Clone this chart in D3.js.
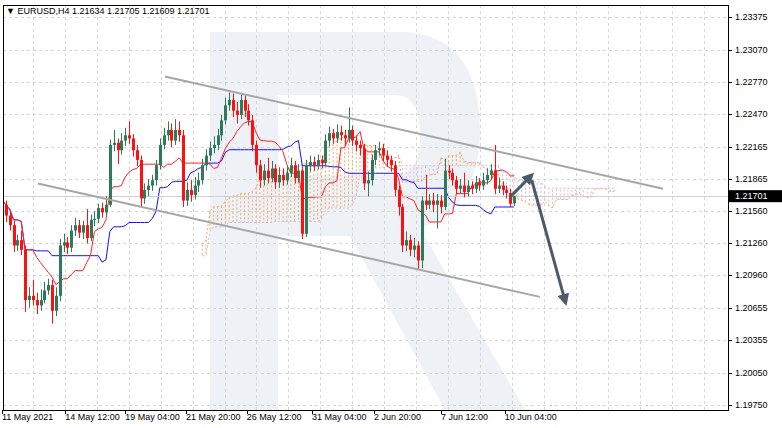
<!DOCTYPE html>
<html><head><meta charset="utf-8">
<script src="https://cdn.jsdelivr.net/npm/d3@7"></script>
<style>body{margin:0;background:#fff}text{font-family:"Liberation Sans",Arial,sans-serif}</style>
</head><body><div id="chart"></div>
<script>
// EURUSD H4 candles
var opens = [1.2170,1.2162,1.2152,1.2143,1.2124,1.2129,1.2120,1.2073,1.2077,1.2073,1.2068,1.2073,1.2082,1.2087,1.2063,1.2077,1.2124,1.2127,1.2122,1.2138,
1.2143,1.2136,1.2143,1.2131,1.2148,1.2149,1.2159,1.2155,1.2162,1.2218,1.2220,1.2213,1.2222,1.2227,1.2224,1.2213,1.2204,1.2168,1.2176,1.2180,
1.2185,1.2199,1.2218,1.2227,1.2232,1.2222,1.2232,1.2227,1.2166,1.2176,1.2171,1.2180,1.2185,1.2199,1.2208,1.2215,1.2218,1.2227,1.2241,1.2255,
1.2260,1.2250,1.2246,1.2260,1.2250,1.2241,1.2218,1.2199,1.2185,1.2194,1.2187,1.2196,1.2183,1.2190,1.2185,1.2192,1.2199,1.2187,1.2194,1.2135,
1.2199,1.2202,1.2199,1.2204,1.2201,1.2222,1.2229,1.2224,1.2230,1.2227,1.2224,1.2232,1.2222,1.2218,1.2215,1.2182,1.2185,1.2204,1.2213,1.2215,
1.2208,1.2204,1.2199,1.2176,1.2160,1.2124,1.2129,1.2120,1.2124,1.2110,1.2166,1.2162,1.2166,1.2162,1.2166,1.2160,1.2194,1.2192,1.2185,1.2177,
1.2180,1.2174,1.2180,1.2177,1.2183,1.2180,1.2185,1.2190,1.2194,1.2177,1.2180,1.2176,1.2173,1.21634];
var highs = [1.2178,1.2166,1.2156,1.2147,1.2134,1.2138,1.2124,1.2085,1.2092,1.2080,1.2083,1.2090,1.2093,1.2092,1.2085,1.2130,1.2135,1.2132,1.2143,1.2150,
1.2148,1.2147,1.2158,1.2153,1.2156,1.2163,1.2164,1.2170,1.2223,1.2232,1.2224,1.2229,1.2234,1.2240,1.2228,1.2218,1.2208,1.2182,1.2186,1.2190,
1.2204,1.2224,1.2234,1.2240,1.2238,1.2242,1.2240,1.2232,1.2183,1.2185,1.2188,1.2192,1.2205,1.2214,1.2221,1.2226,1.2233,1.2246,1.2262,1.2267,
1.2266,1.2258,1.2265,1.2264,1.2256,1.2246,1.2222,1.2204,1.2200,1.2206,1.2203,1.2200,1.2197,1.2196,1.2199,1.2206,1.2203,1.2200,1.2198,1.2204,
1.2208,1.2207,1.2209,1.2208,1.2228,1.2235,1.2233,1.2237,1.2236,1.2232,1.2253,1.2236,1.2227,1.2222,1.2219,1.2193,1.2209,1.2218,1.2221,1.2219,
1.2213,1.2208,1.2203,1.2180,1.2163,1.2137,1.2134,1.2131,1.2128,1.2170,1.2190,1.2172,1.2173,1.2172,1.2171,1.2205,1.2199,1.2196,1.2189,1.2186,
1.2192,1.2185,1.2184,1.2189,1.2187,1.2192,1.2196,1.2200,1.2218,1.2187,1.2184,1.2180,1.2177,1.21705];
var lows = [1.2155,1.2146,1.2138,1.2118,1.2119,1.2115,1.2062,1.2066,1.2068,1.2060,1.2063,1.2070,1.2078,1.2051,1.2058,1.2072,1.2118,1.2116,1.2118,1.2133,
1.2131,1.2130,1.2126,1.2128,1.2142,1.2145,1.2150,1.2152,1.2160,1.2212,1.2200,1.2209,1.2217,1.2219,1.2207,1.2198,1.2160,1.2163,1.2170,1.2175,
1.2180,1.2195,1.2214,1.2222,1.2216,1.2218,1.2221,1.2160,1.2161,1.2165,1.2167,1.2174,1.2181,1.2194,1.2203,1.2210,1.2213,1.2222,1.2237,1.2250,
1.2244,1.2238,1.2242,1.2244,1.2236,1.2212,1.2192,1.2178,1.2180,1.2182,1.2183,1.2177,1.2178,1.2180,1.2181,1.2188,1.2182,1.2183,1.2130,1.2132,
1.2193,1.2194,1.2195,1.2196,1.2198,1.2217,1.2219,1.2220,1.2222,1.2218,1.2220,1.2217,1.2212,1.2208,1.2176,1.2170,1.2180,1.2199,1.2208,1.2203,
1.2198,1.2193,1.2170,1.2152,1.2118,1.2119,1.2114,1.2113,1.2102,1.2103,1.2157,1.2158,1.2155,1.2140,1.2154,1.2157,1.2186,1.2180,1.2172,1.2173,
1.2169,1.2170,1.2172,1.2173,1.2175,1.2176,1.2181,1.2186,1.2172,1.2173,1.2171,1.2168,1.2160,1.21609];
var closes = [1.2162,1.2152,1.2143,1.2124,1.2129,1.2120,1.2073,1.2077,1.2073,1.2068,1.2073,1.2082,1.2087,1.2063,1.2077,1.2124,1.2127,1.2122,1.2138,1.2143,
1.2136,1.2143,1.2131,1.2148,1.2149,1.2159,1.2155,1.2162,1.2218,1.2220,1.2213,1.2222,1.2227,1.2224,1.2213,1.2204,1.2168,1.2176,1.2180,1.2185,
1.2199,1.2218,1.2227,1.2232,1.2222,1.2232,1.2227,1.2166,1.2176,1.2171,1.2180,1.2185,1.2199,1.2208,1.2215,1.2218,1.2227,1.2241,1.2255,1.2260,
1.2250,1.2246,1.2260,1.2250,1.2241,1.2218,1.2199,1.2185,1.2194,1.2187,1.2196,1.2183,1.2190,1.2185,1.2192,1.2199,1.2187,1.2194,1.2135,1.2199,
1.2202,1.2199,1.2204,1.2201,1.2222,1.2229,1.2224,1.2230,1.2227,1.2224,1.2232,1.2222,1.2218,1.2215,1.2182,1.2185,1.2204,1.2213,1.2215,1.2208,
1.2204,1.2199,1.2176,1.2160,1.2124,1.2129,1.2120,1.2124,1.2110,1.2166,1.2162,1.2166,1.2162,1.2166,1.2160,1.2194,1.2192,1.2185,1.2177,1.2180,
1.2174,1.2180,1.2177,1.2183,1.2180,1.2185,1.2190,1.2194,1.2177,1.2180,1.2176,1.2173,1.2163,1.21701];

var priceTicks = [1.23375,1.23070,1.22770,1.22470,1.22165,1.21865,1.21560,1.21260,1.20960,1.20655,1.20355,1.20050,1.19750];
var timeLabels = ["11 May 2021","14 May 12:00","19 May 04:00","21 May 20:00","26 May 12:00","31 May 04:00","2 Jun 20:00","7 Jun 12:00","10 Jun 04:00"];
var timeLabelBars = [0,16.4,32,47.8,63.6,80.5,96.6,114,130.6];
// analyst annotations: [bar, price]
var channelUpper = [[42.3,1.2282],[171.7,1.2177]];
var channelLower = [[9.3,1.2182],[139.7,1.2076]];
var arrowUp = [[131.9,1.2169],[137.1,1.2188]];
var arrowDown = [[137.6,1.2185],[146.2,1.2073]];

var W = 782, H = 428, pLeft = 3, pRight = 728, pTop = 5, pBottom = 410;
var x = d3.scaleLinear().domain([0,100]).range([2,387]);
var y = d3.scaleLinear().domain([1.1975,1.23375]).range([405,17]);

var svg = d3.select("#chart").append("svg").attr("width",W).attr("height",H);
svg.append("rect").attr("width",W).attr("height",H).attr("fill","#fff");

var defs = svg.append("defs");
defs.append("clipPath").attr("id","clip").append("rect")
    .attr("x",pLeft).attr("y",pTop).attr("width",pRight-pLeft).attr("height",pBottom-pTop);
defs.append("marker").attr("id","arr").attr("viewBox","0 0 10 10").attr("refX",5).attr("refY",5)
    .attr("markerWidth",4).attr("markerHeight",4).attr("orient","auto")
    .append("path").attr("d","M0,0L10,5L0,10z").attr("fill","#4b5b6c");

var plot = svg.append("g").attr("clip-path","url(#clip)");

// watermark
plot.append("path").attr("fill","#eef2f7").attr("fill-rule","evenodd")
    .attr("d","M210,32H400C455,32 480,70 480,130C480,185 455,218 420,228L525,410H445L350,236H278V410H210Z M278,95V175H395C412,175 420,160 420,135C420,110 412,95 395,95Z");

// grid
plot.selectAll(".hg").data(priceTicks).enter().append("line")
    .attr("x1",pLeft).attr("x2",pRight).attr("y1",function(d){return Math.round(y(d))+0.5;}).attr("y2",function(d){return Math.round(y(d))+0.5;})
    .attr("stroke","#d6d6d6").attr("stroke-dasharray","3,3");
plot.selectAll(".vg").data(d3.range(8,190,8.3)).enter().append("line")
    .attr("y1",pTop).attr("y2",pBottom).attr("x1",function(d){return Math.round(x(d))+0.5;}).attr("x2",function(d){return Math.round(x(d))+0.5;})
    .attr("stroke","#d6d6d6").attr("stroke-dasharray","3,3");

// ichimoku
function mid(i, n) {
    var s = Math.max(0, i-n+1);
    return (d3.max(highs.slice(s,i+1)) + d3.min(lows.slice(s,i+1))) / 2;
}
var tenkan = closes.map(function(d,i){return mid(i,9);});
var kijun = closes.map(function(d,i){return mid(i,26);});
var spanA = [];
closes.forEach(function(d,i){
    if (i < 26) return;
    spanA.push({i:i+26, a:(tenkan[i]+kijun[i])/2, b:mid(i,52)});
});
plot.selectAll(".cloud").data(spanA).enter().append("line")
    .attr("x1",function(d){return x(d.i);}).attr("x2",function(d){return x(d.i);})
    .attr("y1",function(d){return y(d.a);}).attr("y2",function(d){return y(d.b);})
    .attr("stroke",function(d){return d.a>=d.b?"#f5a868":"#d9b8d9";})
    .attr("stroke-width",1).attr("stroke-dasharray","2,2");
var cloudLine = function(k){return d3.line().x(function(d){return x(d.i);}).y(function(d){return y(d[k]);});};
plot.append("path").datum(spanA).attr("d",cloudLine("a")).attr("fill","none").attr("stroke","#f5a868").attr("stroke-dasharray","2,2");
plot.append("path").datum(spanA).attr("d",cloudLine("b")).attr("fill","none").attr("stroke","#d9b8d9").attr("stroke-dasharray","2,2");

var ln = d3.line().x(function(d,i){return x(i);}).y(function(d){return y(d);});
plot.append("path").datum(kijun).attr("d",ln).attr("fill","none").attr("stroke","#1010ff").attr("stroke-width",1);
plot.append("path").datum(tenkan).attr("d",ln).attr("fill","none").attr("stroke","#ff2020").attr("stroke-width",1);

// price line
var last = closes[closes.length-1];
plot.append("line").attr("x1",pLeft).attr("x2",pRight).attr("y1",Math.round(y(last))+0.5).attr("y2",Math.round(y(last))+0.5)
    .attr("stroke","#d0d0d0");

// candles
var candles = plot.selectAll(".c").data(closes).enter().append("g");
candles.append("line")
    .attr("x1",function(d,i){return Math.round(x(i))+0.5;}).attr("x2",function(d,i){return Math.round(x(i))+0.5;})
    .attr("y1",function(d,i){return y(highs[i]);}).attr("y2",function(d,i){return y(lows[i]);})
    .attr("stroke",function(d,i){return d>=opens[i]?"#2f7a5a":"#ff1010";});
candles.append("rect")
    .attr("x",function(d,i){return Math.round(x(i))-1;}).attr("width",3)
    .attr("y",function(d,i){return y(Math.max(d,opens[i]));})
    .attr("height",function(d,i){return Math.max(1,Math.abs(y(d)-y(opens[i])));})
    .attr("fill",function(d,i){return d>=opens[i]?"#2f7a5a":"#ff1010";});

// channel and arrows
var pl = d3.line().x(function(d){return x(d[0]);}).y(function(d){return y(d[1]);});
[channelUpper,channelLower].forEach(function(c){
    plot.append("path").attr("d",pl(c)).attr("stroke","#a6a6a6").attr("stroke-width",2).attr("fill","none");
});
[arrowUp,arrowDown].forEach(function(c){
    plot.append("path").attr("d",pl(c)).attr("stroke","#4b5b6c").attr("stroke-width",3).attr("fill","none").attr("marker-end","url(#arr)");
});

// frame and axis
svg.append("rect").attr("x",pLeft+0.5).attr("y",pTop+0.5).attr("width",pRight-pLeft).attr("height",pBottom-pTop)
    .attr("fill","none").attr("stroke","#000");
var yAxis = svg.append("g");
yAxis.selectAll("line").data(priceTicks).enter().append("line")
    .attr("x1",pRight).attr("x2",pRight+4).attr("y1",function(d){return Math.round(y(d))+0.5;}).attr("y2",function(d){return Math.round(y(d))+0.5;})
    .attr("stroke","#000");
yAxis.selectAll("text").data(priceTicks).enter().append("text")
    .attr("x",pRight+7).attr("y",function(d){return y(d)+3;}).attr("font-size",9).attr("fill","#000")
    .text(function(d){return d.toFixed(5);});
svg.append("rect").attr("x",pRight+1).attr("y",y(last)-6).attr("width",W-pRight-1).attr("height",12).attr("fill","#000");
svg.append("text").attr("x",pRight+7).attr("y",y(last)+3).attr("font-size",9).attr("fill","#fff").text(last.toFixed(5));

svg.selectAll(".xt").data(timeLabels).enter().append("text")
    .attr("x",function(d,i){return x(timeLabelBars[i]);}).attr("y",420).attr("font-size",9).attr("fill","#000")
    .text(function(d){return d;});
svg.selectAll(".xk").data(timeLabelBars).enter().append("line")
    .attr("x1",function(d){return Math.round(x(d))+0.5;}).attr("x2",function(d){return Math.round(x(d))+0.5;})
    .attr("y1",pBottom).attr("y2",pBottom+4).attr("stroke","#000");

svg.append("text").attr("x",6).attr("y",14).attr("font-size",9).attr("fill","#000")
    .text("\u25BC EURUSD,H4  1.21634 1.21705 1.21609 1.21701");
</script></body></html>
